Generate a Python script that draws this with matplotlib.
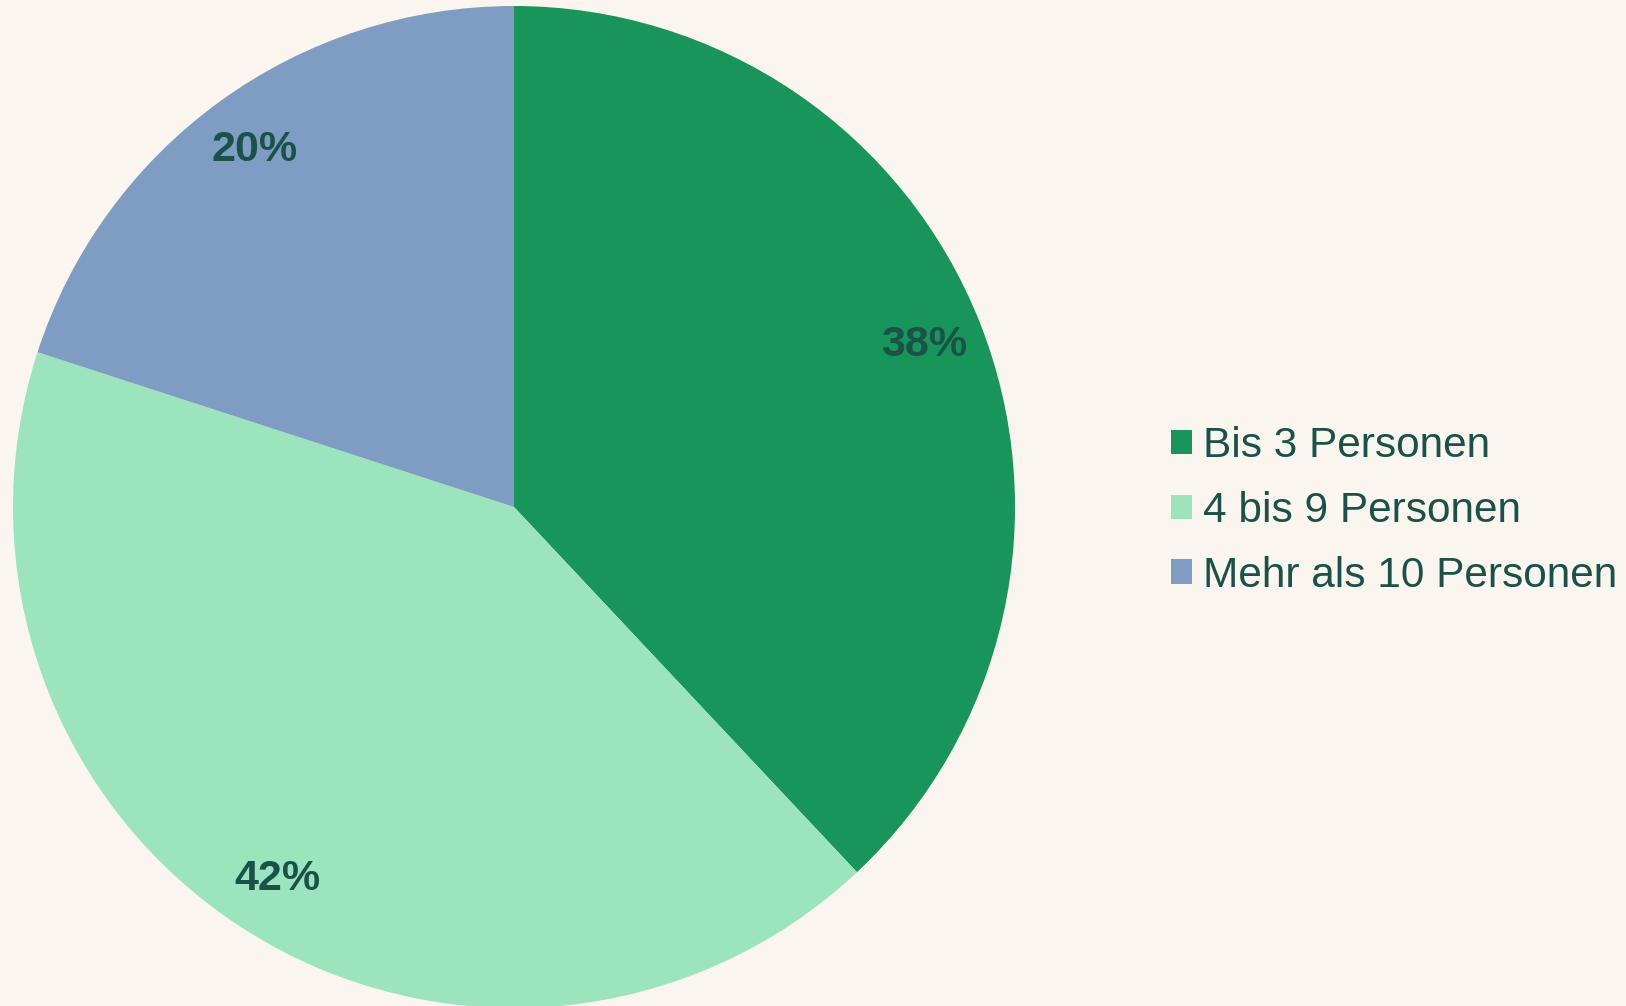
import matplotlib.pyplot as plt

labels = ["Bis 3 Personen", "4 bis 9 Personen", "Mehr als 10 Personen"]
shares = [38, 42, 20]
colors = ["#18955A", "#9BE4BE", "#7F9CC3"]

bg = "#FAF5EE"
txt = "#1A5249"

plt.rcParams['font.family'] = ['Liberation Sans', 'DejaVu Sans']

fig = plt.figure(figsize=(16.26, 10.06), dpi=100, facecolor=bg)
ax = fig.add_axes([13/1626, -2/1006, 1002/1626, 1002/1006])
ax.set_facecolor(bg)

wedges, texts, autotexts = ax.pie(shares, colors=colors, startangle=90, counterclock=False,
                                  autopct=lambda p: "%d%%" % round(p), pctdistance=0.88,
                                  textprops=dict(color=txt, fontsize=31, fontweight='bold'))
ax.set_xlim(-1, 1)
ax.set_ylim(-1, 1)
ax.set_aspect('equal')

fig.legend(wedges, labels, loc='center left', bbox_to_anchor=(1150/1626, 495/1006),
           frameon=False, fontsize=30.5, labelcolor=txt, handlelength=0.5, handleheight=0.5,
           handletextpad=0.25, labelspacing=0.58, borderpad=0)

fig.savefig("out.png", dpi=100, facecolor=bg)
